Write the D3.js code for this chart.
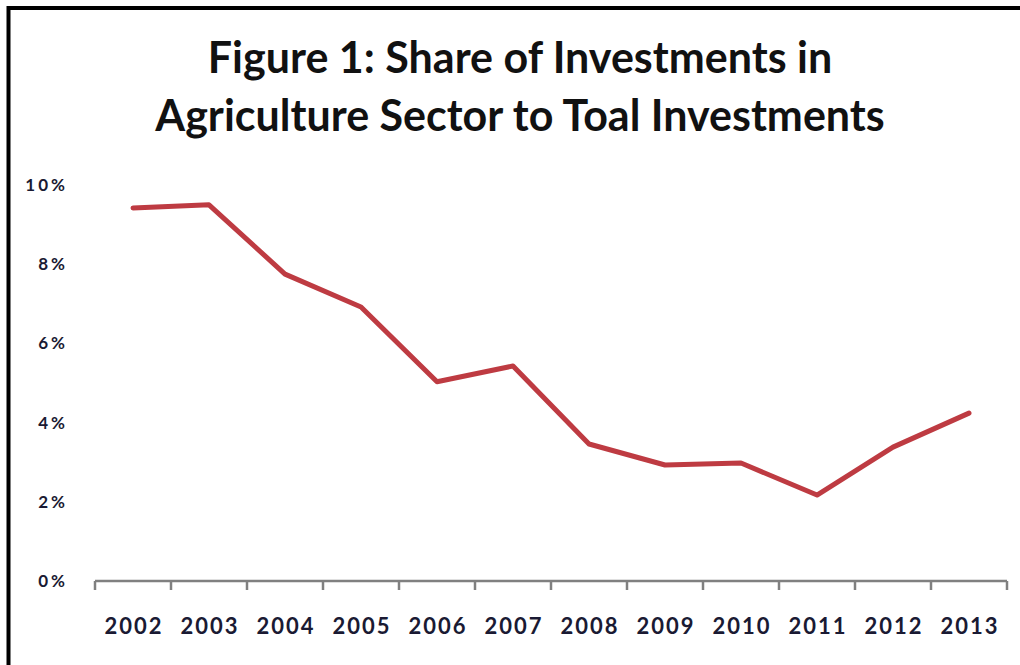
<!DOCTYPE html>
<html>
<head>
<meta charset="utf-8">
<script src="https://cdn.jsdelivr.net/npm/d3@7"></script>
<style>
  body { margin: 0; background: #fff; }
  svg { display: block; }
  .title { font-family: Lato, "Open Sans", sans-serif; font-weight: 700; fill: #111; }
  .tick-label { font-family: Lato, "Open Sans", sans-serif; font-weight: 700; fill: #1a1a33; }
</style>
</head>
<body>
<div id="chart"></div>
<script>
// data
const years = ["2002", "2003", "2004", "2005", "2006", "2007", "2008", "2009", "2010", "2011", "2012", "2013"];
const shares = [9.42, 9.5, 7.75, 6.92, 5.03, 5.43, 3.46, 2.93, 2.98, 2.17, 3.38, 4.24];
const yTicks = [0, 2, 4, 6, 8, 10];
const titleLines = ["Figure 1: Share of Investments in", "Agriculture Sector to Toal Investments"];

const width = 1020, height = 665;
const margin = {top: 185, right: 13, bottom: 84, left: 95};

const svg = d3.select("#chart")
  .append("svg")
    .attr("width", width)
    .attr("height", height);

// frame round the picture (right and bottom edges are cut off)
svg.append("path")
  .attr("d", "M8.5," + height + " V8 H" + width)
  .attr("fill", "none")
  .attr("stroke", "#000")
  .attr("stroke-width", 4);

svg.selectAll(".title")
  .data(titleLines)
  .enter()
  .append("text")
    .attr("class", "title")
    .attr("x", 520)
    .attr("y", function (d, i) { return 73 + i * 58; })
    .attr("text-anchor", "middle")
    .attr("font-size", 43)
    .text(function (d) { return d; });

const x = d3.scaleBand()
  .domain(years)
  .range([margin.left, width - margin.right]);

const y = d3.scaleLinear()
  .domain([0, 10])
  .range([height - margin.bottom, margin.top]);

// y labels only, no axis line
svg.selectAll(".ylab")
  .data(yTicks)
  .enter()
  .append("text")
    .attr("class", "tick-label ylab")
    .attr("x", 68)
    .attr("y", function (d) { return y(d); })
    .attr("dy", "0.35em")
    .attr("text-anchor", "end")
    .attr("font-size", 17)
    .attr("letter-spacing", 3)
    .text(function (d) { return d + "%"; });

// x axis: line with ticks at category boundaries
const axisY = y(0);
svg.append("line")
  .attr("x1", margin.left)
  .attr("x2", width - margin.right)
  .attr("y1", axisY)
  .attr("y2", axisY)
  .attr("stroke", "#808080")
  .attr("stroke-width", 2.5);

const bounds = years.map(function (d) { return x(d); }).concat([x(years[years.length - 1]) + x.bandwidth()]);
svg.selectAll(".xtick")
  .data(bounds)
  .enter()
  .append("line")
    .attr("x1", function (d) { return d; })
    .attr("x2", function (d) { return d; })
    .attr("y1", axisY)
    .attr("y2", axisY + 9)
    .attr("stroke", "#808080")
    .attr("stroke-width", 2.5);

svg.selectAll(".xlab")
  .data(years)
  .enter()
  .append("text")
    .attr("class", "tick-label xlab")
    .attr("x", function (d) { return x(d) + x.bandwidth() / 2 + 1; })
    .attr("y", 634)
    .attr("text-anchor", "middle")
    .attr("font-size", 22)
    .attr("letter-spacing", 2)
    .text(function (d) { return d; });

const line = d3.line()
  .x(function (d, i) { return x(years[i]) + x.bandwidth() / 2; })
  .y(function (d) { return y(d); });

svg.append("path")
  .datum(shares)
  .attr("d", line)
  .attr("fill", "none")
  .attr("stroke", "#be3b42")
  .attr("stroke-width", 5)
  .attr("stroke-linejoin", "round")
  .attr("stroke-linecap", "round");
</script>
</body>
</html>
